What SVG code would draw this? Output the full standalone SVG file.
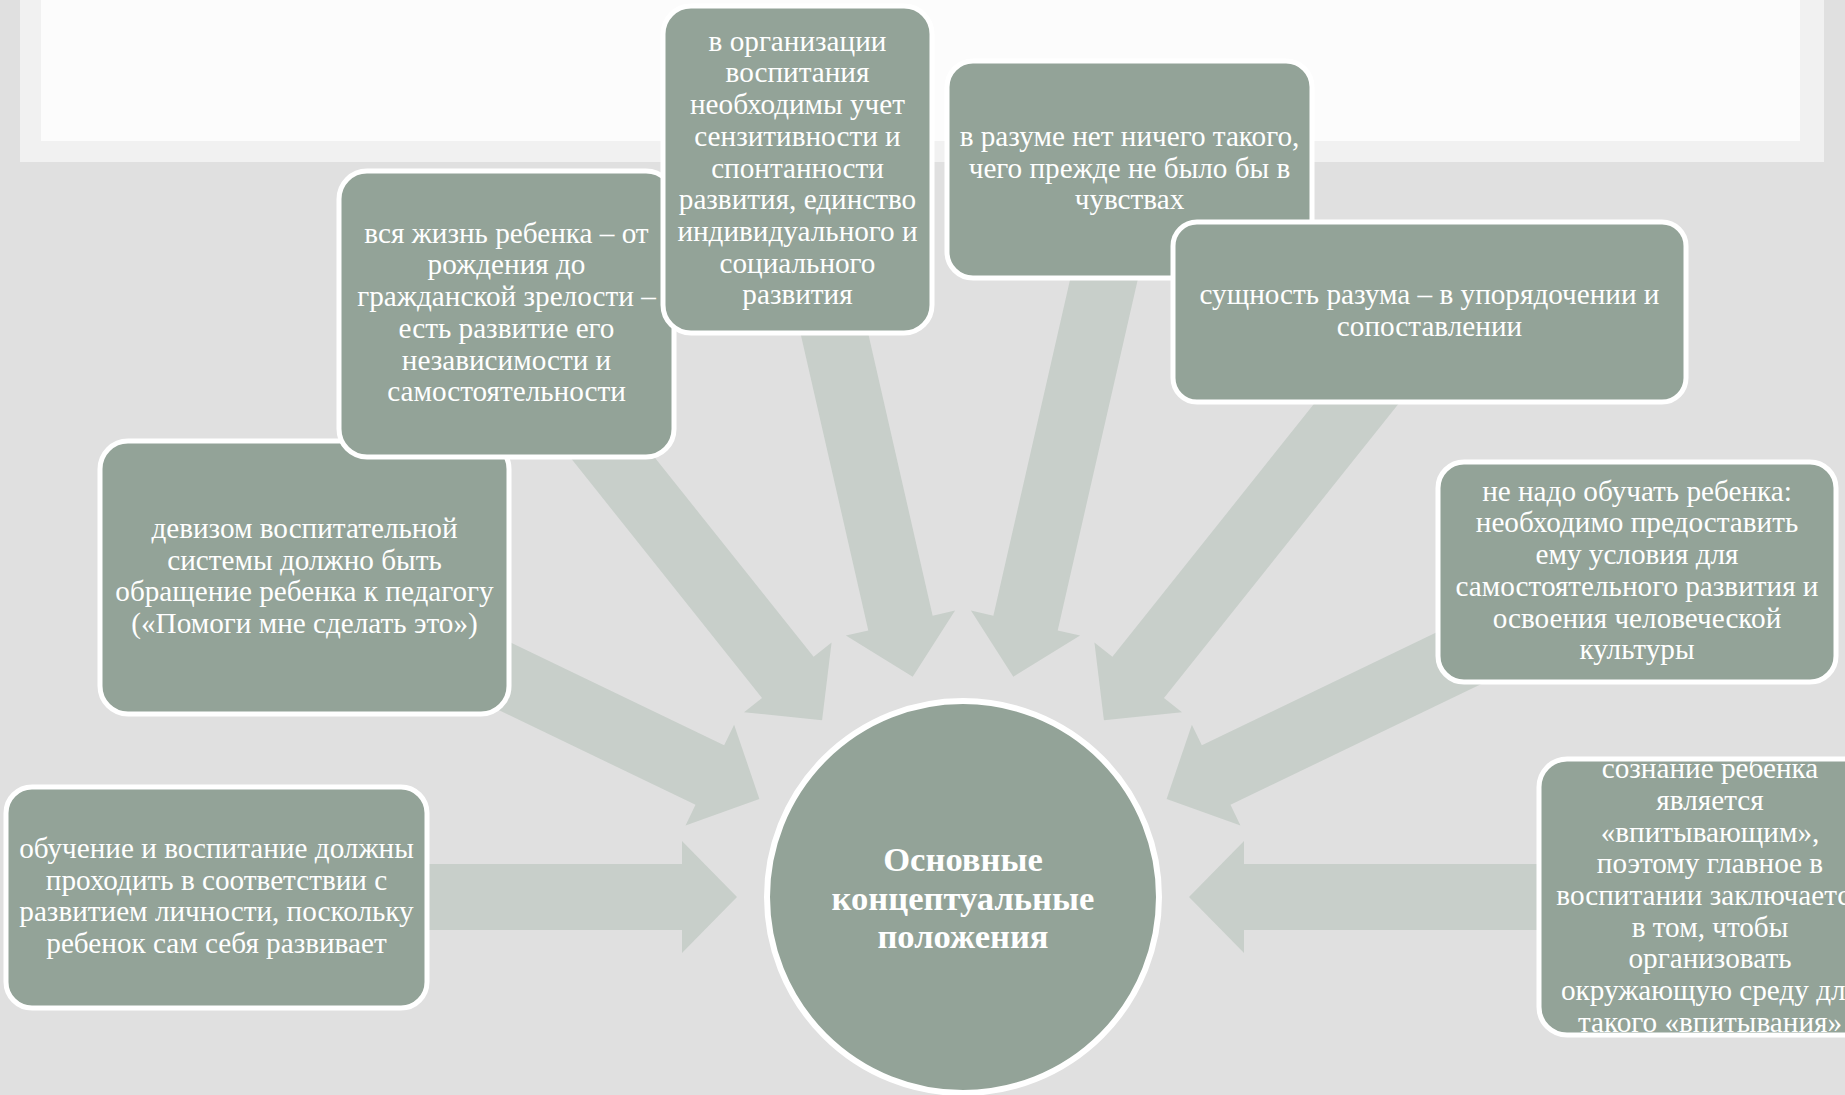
<svg xmlns="http://www.w3.org/2000/svg" xmlns:xlink="http://www.w3.org/1999/xlink" width="1845" height="1095" viewBox="0 0 1845 1095">
<style>
.nd{fill:#93a398;stroke:#ffffff;stroke-width:5}
.ndf{fill:#93a398}
.nds{fill:none;stroke:#ffffff;stroke-width:5}
.t{font-family:"Liberation Serif","Times New Roman",serif;font-size:29.2px;fill:#ffffff;text-anchor:middle}
.tb{font-family:"Liberation Serif","Times New Roman",serif;font-size:34.6px;font-weight:bold;fill:#ffffff;text-anchor:middle}
.arr{fill:#c8cfca}
</style>
<defs>
<polygon id="arrow" points="226,0 281,-56 281,-33 726,-33 726,33 281,33 281,56"/>
<clipPath id="clipE"><rect x="1539" y="759" width="345" height="276" rx="28"/></clipPath>
</defs>
<rect x="0" y="0" width="1845" height="1095" fill="#e0e0e0"/>
<rect x="20" y="0" width="1804" height="162" fill="#f1f1f1"/>
<rect x="41" y="0" width="1759" height="141" fill="#fcfcfc"/>
<g id="connectors" class="arr">
<use xlink:href="#arrow" transform="translate(963,897) rotate(180)"/>
<use xlink:href="#arrow" transform="translate(963,897) rotate(205.714)"/>
<use xlink:href="#arrow" transform="translate(963,897) rotate(231.429)"/>
<use xlink:href="#arrow" transform="translate(963,897) rotate(257.143)"/>
<use xlink:href="#arrow" transform="translate(963,897) rotate(282.857)"/>
<use xlink:href="#arrow" transform="translate(963,897) rotate(308.571)"/>
<use xlink:href="#arrow" transform="translate(963,897) rotate(334.286)"/>
<use xlink:href="#arrow" transform="translate(963,897) rotate(0)"/>
</g>
<g id="center">
<circle cx="963" cy="897" r="196" fill="#93a398" stroke="#ffffff" stroke-width="6"/>
<text class="tb"><tspan x="963" y="871">Основные</tspan><tspan x="963" dy="38.5">концептуальные</tspan><tspan x="963" dy="38.5">положения</tspan></text>
</g>
<g id="nodeH">
<rect class="nd" x="6" y="787" width="421" height="221" rx="26"/>
<text class="t"><tspan x="216.5" y="858">обучение и воспитание должны</tspan><tspan x="216.5" dy="31.7">проходить в соответствии с</tspan><tspan x="216.5" dy="31.7">развитием личности, поскольку</tspan><tspan x="216.5" dy="31.7">ребенок сам себя развивает</tspan></text>
</g>
<g id="nodeG">
<rect class="nd" x="100" y="441" width="409" height="273" rx="28"/>
<text class="t"><tspan x="304.5" y="538">девизом воспитательной</tspan><tspan x="304.5" dy="31.7">системы должно быть</tspan><tspan x="304.5" dy="31.7">обращение ребенка к педагогу</tspan><tspan x="304.5" dy="31.7">(«Помоги мне сделать это»)</tspan></text>
</g>
<g id="nodeF">
<rect class="nd" x="339" y="171" width="335" height="286" rx="28"/>
<text class="t"><tspan x="506.5" y="242.75">вся жизнь ребенка – от</tspan><tspan x="506.5" dy="31.7">рождения до</tspan><tspan x="506.5" dy="31.7">гражданской зрелости –</tspan><tspan x="506.5" dy="31.7">есть развитие его</tspan><tspan x="506.5" dy="31.7">независимости и</tspan><tspan x="506.5" dy="31.7">самостоятельности</tspan></text>
</g>
<g id="nodeA">
<rect class="nd" x="663" y="6" width="269" height="327" rx="28"/>
<text class="t"><tspan x="797.5" y="50.7">в организации</tspan><tspan x="797.5" dy="31.7">воспитания</tspan><tspan x="797.5" dy="31.7">необходимы учет</tspan><tspan x="797.5" dy="31.7">сензитивности и</tspan><tspan x="797.5" dy="31.7">спонтанности</tspan><tspan x="797.5" dy="31.7">развития, единство</tspan><tspan x="797.5" dy="31.7">индивидуального и</tspan><tspan x="797.5" dy="31.7">социального</tspan><tspan x="797.5" dy="31.7">развития</tspan></text>
</g>
<g id="nodeB">
<rect class="nd" x="947" y="61" width="365" height="217" rx="26"/>
<text class="t"><tspan x="1129.5" y="145.8">в разуме нет ничего такого,</tspan><tspan x="1129.5" dy="31.7">чего прежде не было бы в</tspan><tspan x="1129.5" dy="31.7">чувствах</tspan></text>
</g>
<g id="nodeC">
<rect class="nd" x="1173" y="222" width="513" height="180" rx="24"/>
<text class="t"><tspan x="1429.5" y="304.2">сущность разума – в упорядочении и</tspan><tspan x="1429.5" dy="31.7">сопоставлении</tspan></text>
</g>
<g id="nodeD">
<rect class="nd" x="1438" y="462" width="398" height="220" rx="26"/>
<text class="t"><tspan x="1637" y="500.75">не надо обучать ребенка:</tspan><tspan x="1637" dy="31.7">необходимо предоставить</tspan><tspan x="1637" dy="31.7">ему условия для</tspan><tspan x="1637" dy="31.7">самостоятельного развития и</tspan><tspan x="1637" dy="31.7">освоения человеческой</tspan><tspan x="1637" dy="31.7">культуры</tspan></text>
</g>
<g id="nodeE">
<rect class="ndf" x="1539" y="759" width="345" height="276" rx="28"/>
<text class="t" clip-path="url(#clipE)"><tspan x="1710" y="778.2">сознание ребенка</tspan><tspan x="1710" dy="31.7">является</tspan><tspan x="1710" dy="31.7">«впитывающим»,</tspan><tspan x="1710" dy="31.7">поэтому главное в</tspan><tspan x="1710" dy="31.7">воспитании заключается</tspan><tspan x="1710" dy="31.7">в том, чтобы</tspan><tspan x="1710" dy="31.7">организовать</tspan><tspan x="1710" dy="31.7">окружающую среду для</tspan><tspan x="1710" dy="31.7">такого «впитывания»</tspan></text>
<rect class="nds" x="1539" y="759" width="345" height="276" rx="28"/>
</g>
</svg>
